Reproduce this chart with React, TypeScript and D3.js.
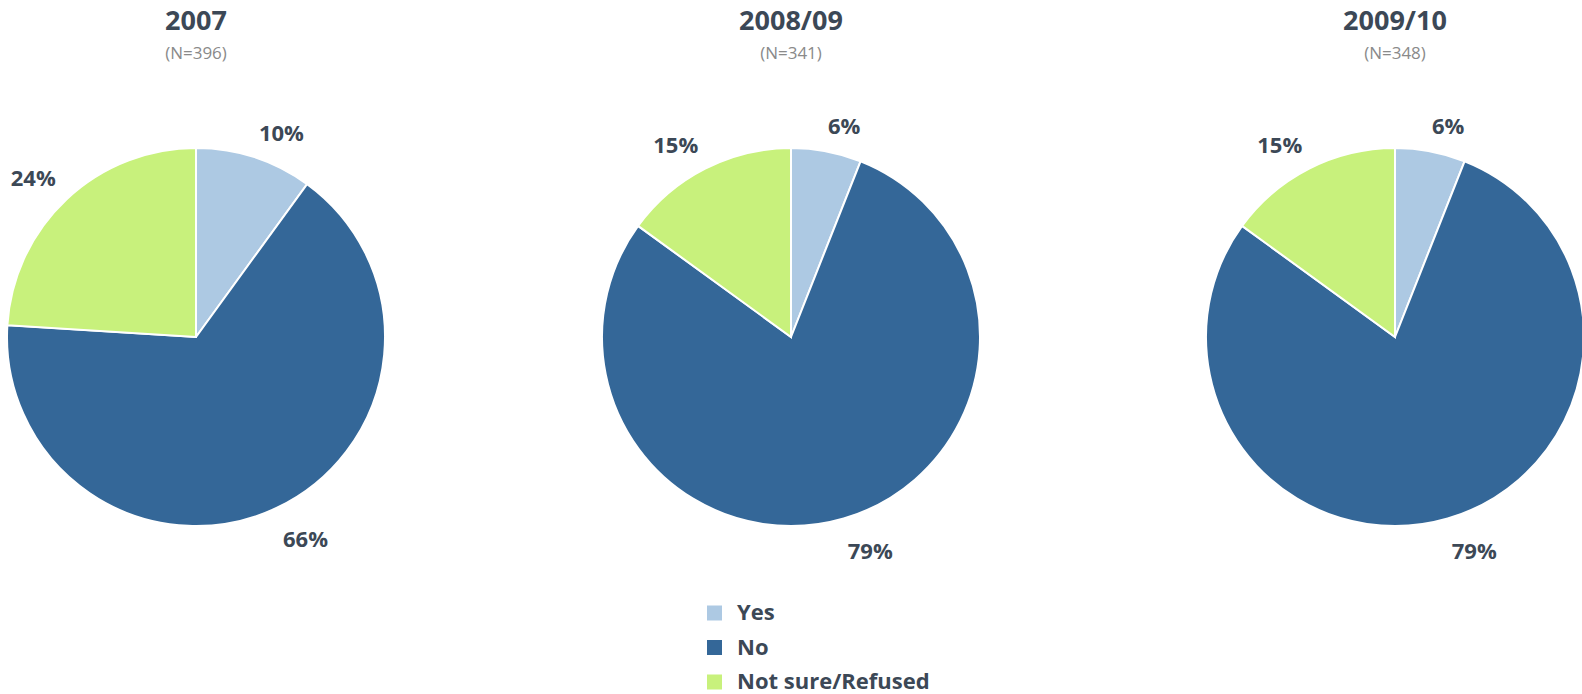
import React from "react";
import * as d3 from "d3";

const categories = ["Yes", "No", "Not sure/Refused"];
const years = ["2007", "2008/09", "2009/10"];
const sampleSizes = ["(N=396)", "(N=341)", "(N=348)"];
const values2007 = [10, 66, 24];
const values2008 = [6, 79, 15];
const values2009 = [6, 79, 15];
const seriesValues = [values2007, values2008, values2009];
const colors = ["#adc9e3", "#346798", "#c8f17c"];

const W = 1582;
const H = 694;
const R = 189;
const CY = 337;
const centersX = [196, 791, 1395];
const textColor = "#3c4856";
const font = "'Open Sans', 'DejaVu Sans', sans-serif";

export default function App() {
  const pie = d3.pie<number>().sort(null).value((d) => d);
  const arc = d3.arc<d3.PieArcDatum<number>>().innerRadius(0).outerRadius(R);
  const labelFont = 22;
  return (
    <svg width={W} height={H} style={{ position: "absolute", left: 0, top: 0 }} fontFamily={font}>
      {seriesValues.map((vals, i) => {
        const arcs = pie(vals);
        const cx = centersX[i];
        return (
          <g key={i}>
            <text x={cx} y={30} textAnchor="middle" fontSize={27} fontWeight={700} fill={textColor}>
              {years[i]}
            </text>
            <text x={cx} y={59} textAnchor="middle" fontSize={17} fill="#8a8a8a">
              {sampleSizes[i]}
            </text>
            <g transform={`translate(${cx},${CY})`}>
              {arcs.map((a, j) => (
                <path key={j} d={arc(a) || ""} fill={colors[j]} stroke="#fff" strokeWidth={2} />
              ))}
              {arcs.map((a, j) => {
                const mid = (a.startAngle + a.endAngle) / 2;
                const dx = Math.sin(mid);
                const dy = -Math.cos(mid);
                const label = `${vals[j]}%`;
                const w = label.length * 0.66 * labelFont;
                const g = 17;
                const x = (R + g) * dx + Math.sign(dx) * w / 2;
                const y = (R + g) * dy + (dy < 0 ? -8.5 : 16);
                return (
                  <text key={"l" + j} x={x} y={y} dy="0.36em" textAnchor="middle" fontSize={labelFont} fontWeight={700} fill={textColor}>
                    {label}
                  </text>
                );
              })}
            </g>
          </g>
        );
      })}
      {categories.map((c, k) => (
        <g key={c} transform={`translate(707,${613 + k * 34.5})`}>
          <rect x={0} y={-7.5} width={15} height={15} fill={colors[k]} />
          <text x={30} y={0} dy="0.34em" fontSize={22} fontWeight={700} fill={textColor}>
            {c}
          </text>
        </g>
      ))}
    </svg>
  );
}
